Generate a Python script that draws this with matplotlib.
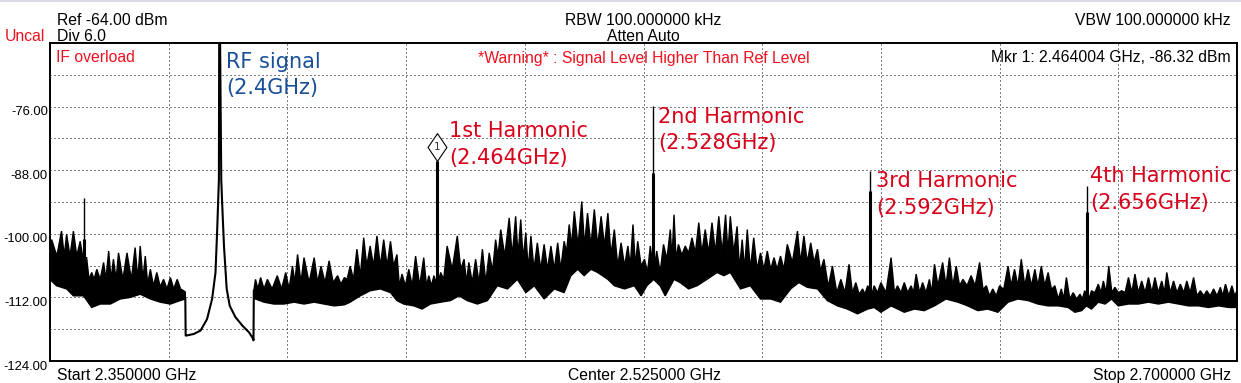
import numpy as np
import matplotlib.pyplot as plt
import matplotlib.transforms as mtransforms
from matplotlib.lines import Line2D

# sweep settings shown on the analyzer screen
start_ghz = 2.35
stop_ghz = 2.70
ref_dbm = -64.0
div_db = 6.0
n_div = 10
bottom_dbm = ref_dbm - n_div * div_db
ytick_vals = [-124.0, -112.0, -100.0, -88.0, -76.0]

# noise floor: (GHz, dBm) along the top and bottom edge of the trace
left_top = [
    (2.3500, -102.5), (2.3505, -101.1), (2.3520, -104.2), (2.3534, -99.5), (2.3542, -104.2),
    (2.3549, -100.1), (2.3559, -104.2), (2.3569, -99.5), (2.3579, -104.2), (2.3589, -101.4),
    (2.3597, -104.5), (2.3608, -104.5), (2.3615, -108.6), (2.3623, -107.3), (2.3630, -108.6),
    (2.3638, -106.7), (2.3648, -108.6), (2.3658, -105.4), (2.3665, -108.6), (2.3673, -103.25),
    (2.3680, -108.6), (2.3687, -104.8), (2.3695, -108.6), (2.3702, -103.6), (2.3715, -108.6),
    (2.3727, -103.6), (2.3740, -108.6), (2.3751, -102.6), (2.3759, -108.6), (2.3766, -102.3),
    (2.3774, -108.6), (2.3781, -104.2), (2.3788, -109.5), (2.3796, -106.7), (2.3805, -109.8),
    (2.3815, -107.3), (2.3825, -110.0), (2.3835, -108.6), (2.3845, -110.4), (2.3855, -108.25),
    (2.3865, -110.4), (2.3875, -108.6), (2.3885, -110.4), (2.3894, -110.75), (2.3899, -111.0),
]
left_bot = [
    (2.3500, -108.6), (2.3519, -109.8), (2.3549, -110.4), (2.3569, -111.7), (2.3599, -111.7),
    (2.3623, -113.9), (2.3648, -113.25), (2.3678, -113.25), (2.3707, -112.3), (2.3737, -112.0),
    (2.3766, -111.4), (2.3796, -112.3), (2.3825, -112.9), (2.3855, -113.25), (2.3884, -112.6),
    (2.3899, -112.3),
]

# carrier and its skirt inside the notch around 2.4 GHz
skirt = [
    (2.3899, -112.3), (2.3900, -119.2), (2.3902, -119.2), (2.3924, -118.9), (2.3944, -118.25),
    (2.3963, -116.1), (2.3978, -112.3), (2.3988, -107.3), (2.3993, -99.2), (2.3996, -93.6),
    (2.3998, -89.8), (2.3999, -60.0), (2.4001, -60.0), (2.4005, -89.8), (2.4008, -94.8),
    (2.4013, -102.3), (2.4021, -110.4), (2.4030, -113.6), (2.4047, -115.75), (2.4067, -117.3),
    (2.4087, -118.6), (2.4099, -119.8), (2.4100, -120.1), (2.4101, -110.75),
]

right_top = [
    (2.4101, -110.75), (2.4106, -108.6), (2.4113, -110.4), (2.4121, -108.25), (2.4131, -110.4),
    (2.4141, -108.6), (2.4155, -110.4), (2.4170, -107.9), (2.4183, -110.4), (2.4195, -107.3),
    (2.4205, -110.4), (2.4215, -106.1), (2.4222, -109.2), (2.4230, -103.9), (2.4240, -109.2),
    (2.4249, -104.5), (2.4264, -109.2), (2.4279, -104.5), (2.4289, -109.2), (2.4299, -106.1),
    (2.4311, -109.2), (2.4323, -105.1), (2.4335, -109.2), (2.4348, -107.9), (2.4358, -109.5),
    (2.4368, -108.25), (2.4376, -108.6), (2.4385, -106.1), (2.4395, -108.6), (2.4405, -102.9),
    (2.4415, -108.0), (2.4425, -100.75), (2.4434, -106.1), (2.4444, -102.3), (2.4454, -106.1),
    (2.4464, -100.4), (2.4474, -106.1), (2.4484, -101.1), (2.4494, -106.1), (2.4504, -101.4),
    (2.4513, -106.1), (2.4523, -103.9), (2.4530, -109.8), (2.4538, -107.6), (2.4548, -109.8),
    (2.4558, -106.7), (2.4568, -109.8), (2.4578, -104.2), (2.4590, -109.8), (2.4602, -104.5),
    (2.4610, -109.8), (2.4617, -107.9), (2.4625, -109.8), (2.4632, -107.9), (2.4642, -109.8),
    (2.4652, -107.3), (2.4661, -108.6), (2.4671, -102.3), (2.4686, -106.7), (2.4701, -100.4),
    (2.4711, -106.7), (2.4721, -104.8), (2.4728, -109.2), (2.4735, -105.4), (2.4745, -109.2),
    (2.4755, -104.8), (2.4765, -109.2), (2.4775, -102.9), (2.4785, -109.2), (2.4795, -103.6),
    (2.4805, -107.0), (2.4814, -101.1), (2.4821, -104.2), (2.4829, -99.2), (2.4841, -104.2),
    (2.4854, -97.0), (2.4863, -104.2), (2.4873, -96.7), (2.4880, -104.2), (2.4888, -97.3),
    (2.4895, -104.8), (2.4903, -99.8), (2.4910, -106.7), (2.4918, -100.4), (2.4927, -106.7),
    (2.4937, -101.7), (2.4947, -106.7), (2.4957, -102.0), (2.4967, -106.7), (2.4977, -102.3),
    (2.4987, -106.7), (2.4997, -101.7), (2.5006, -106.7), (2.5016, -101.4), (2.5023, -103.5),
    (2.5031, -98.25), (2.5038, -102.3), (2.5046, -95.75), (2.5057, -102.3), (2.5068, -93.9),
    (2.5076, -102.3), (2.5085, -96.1), (2.5095, -102.3), (2.5105, -95.4), (2.5115, -102.3),
    (2.5125, -96.7), (2.5135, -102.3), (2.5145, -96.1), (2.5154, -104.0), (2.5164, -99.2),
    (2.5174, -106.1), (2.5184, -101.7), (2.5194, -106.1), (2.5204, -102.3), (2.5211, -106.1),
    (2.5219, -98.25), (2.5226, -106.1), (2.5233, -101.4), (2.5243, -106.1), (2.5253, -104.8),
    (2.5262, -107.3), (2.5270, -102.3), (2.5280, -107.3), (2.5289, -103.25), (2.5299, -107.3),
    (2.5309, -102.0), (2.5319, -104.8), (2.5329, -99.2), (2.5334, -104.8), (2.5340, -96.4),
    (2.5346, -104.8), (2.5353, -102.0), (2.5363, -104.0), (2.5373, -102.3), (2.5383, -103.6),
    (2.5393, -100.75), (2.5403, -103.6), (2.5413, -97.9), (2.5422, -103.6), (2.5432, -99.2),
    (2.5442, -103.6), (2.5452, -97.9), (2.5462, -103.6), (2.5472, -96.7), (2.5482, -103.6),
    (2.5492, -96.4), (2.5499, -103.6), (2.5506, -96.7), (2.5516, -103.6), (2.5526, -98.6),
    (2.5533, -106.7), (2.5541, -101.1), (2.5548, -106.7), (2.5556, -99.2), (2.5565, -106.7),
    (2.5575, -100.75), (2.5585, -106.7), (2.5595, -103.6), (2.5605, -106.7), (2.5615, -103.25),
    (2.5625, -106.7), (2.5635, -104.5), (2.5644, -106.7), (2.5654, -104.2), (2.5664, -106.7),
    (2.5674, -102.0), (2.5689, -105.4), (2.5704, -99.5), (2.5713, -105.4), (2.5723, -100.4),
    (2.5733, -105.4), (2.5743, -101.7), (2.5753, -105.4), (2.5763, -102.9), (2.5772, -107.0),
    (2.5782, -104.8), (2.5795, -110.0), (2.5807, -106.1), (2.5820, -111.1), (2.5832, -108.6),
    (2.5844, -111.1), (2.5856, -105.75), (2.5866, -111.1), (2.5876, -109.2), (2.5886, -111.4),
    (2.5896, -110.4), (2.5903, -111.4), (2.5911, -109.8), (2.5925, -111.1), (2.5930, -109.8),
    (2.5940, -111.1), (2.5950, -109.2), (2.5965, -111.1), (2.5980, -104.5), (2.5990, -111.1),
    (2.5999, -109.8), (2.6009, -111.1), (2.6019, -109.2), (2.6029, -111.1), (2.6039, -109.8),
    (2.6046, -111.1), (2.6054, -107.6), (2.6064, -111.1), (2.6073, -109.2), (2.6083, -111.1),
    (2.6093, -108.6), (2.6100, -111.1), (2.6108, -105.75), (2.6118, -109.8), (2.6132, -105.4),
    (2.6142, -109.8), (2.6152, -104.5), (2.6162, -109.8), (2.6172, -106.1), (2.6182, -109.8),
    (2.6192, -108.6), (2.6204, -109.8), (2.6216, -107.9), (2.6228, -109.8), (2.6241, -105.4),
    (2.6251, -110.5), (2.6261, -109.8), (2.6270, -111.7), (2.6280, -110.4), (2.6290, -111.7),
    (2.6300, -109.8), (2.6312, -110.5), (2.6325, -106.1), (2.6334, -109.8), (2.6344, -106.7),
    (2.6354, -109.8), (2.6364, -104.8), (2.6374, -109.8), (2.6384, -106.7), (2.6394, -109.8),
    (2.6404, -106.7), (2.6413, -109.8), (2.6423, -106.1), (2.6433, -109.8), (2.6443, -107.3),
    (2.6453, -110.5), (2.6463, -109.8), (2.6473, -112.3), (2.6482, -110.4), (2.6489, -112.3),
    (2.6497, -108.25), (2.6507, -112.3), (2.6517, -111.1), (2.6527, -112.3), (2.6537, -111.4),
    (2.6544, -112.3), (2.6551, -110.75), (2.6565, -112.0), (2.6571, -110.75), (2.6581, -111.1),
    (2.6591, -109.5), (2.6599, -111.1), (2.6606, -108.9), (2.6614, -111.1), (2.6622, -106.1),
    (2.6631, -111.1), (2.6640, -110.1), (2.6650, -111.1), (2.6660, -110.75), (2.6670, -111.1),
    (2.6680, -108.25), (2.6690, -111.1), (2.6699, -107.6), (2.6709, -111.1), (2.6719, -108.9),
    (2.6729, -111.1), (2.6739, -108.25), (2.6749, -111.1), (2.6758, -108.25), (2.6768, -111.1),
    (2.6778, -108.9), (2.6786, -111.1), (2.6793, -107.3), (2.6803, -111.1), (2.6813, -108.9),
    (2.6823, -111.1), (2.6833, -109.5), (2.6843, -111.1), (2.6852, -108.9), (2.6862, -111.1),
    (2.6872, -108.25), (2.6882, -111.7), (2.6892, -110.75), (2.6902, -111.7), (2.6911, -110.75),
    (2.6921, -111.7), (2.6931, -110.4), (2.6941, -111.7), (2.6951, -110.1), (2.6958, -111.7),
    (2.6966, -109.5), (2.6976, -111.7), (2.6985, -109.8), (2.6993, -111.7), (2.7000, -110.75),
]
right_bot = [
    (2.4101, -112.3), (2.4106, -112.3), (2.4131, -112.9), (2.4160, -113.25), (2.4190, -113.25),
    (2.4220, -112.9), (2.4249, -113.25), (2.4279, -112.9), (2.4308, -113.25), (2.4338, -113.6),
    (2.4368, -113.4), (2.4385, -112.9), (2.4415, -111.7), (2.4444, -110.75), (2.4474, -110.4),
    (2.4504, -111.1), (2.4523, -112.6), (2.4543, -113.25), (2.4573, -113.6), (2.4597, -114.2),
    (2.4622, -113.25), (2.4652, -112.9), (2.4681, -112.6), (2.4706, -111.7), (2.4730, -112.6),
    (2.4760, -113.25), (2.4790, -112.6), (2.4819, -109.8), (2.4849, -110.4), (2.4878, -108.6),
    (2.4903, -111.1), (2.4928, -109.8), (2.4957, -112.3), (2.4987, -110.4), (2.5016, -111.1),
    (2.5036, -107.9), (2.5056, -106.7), (2.5075, -107.9), (2.5095, -106.7), (2.5115, -107.3),
    (2.5145, -108.6), (2.5164, -109.8), (2.5194, -110.4), (2.5223, -109.8), (2.5243, -111.7),
    (2.5260, -109.8), (2.5280, -108.6), (2.5299, -109.8), (2.5314, -111.7), (2.5340, -108.6),
    (2.5358, -109.2), (2.5383, -110.4), (2.5408, -109.8), (2.5437, -108.6), (2.5467, -107.3),
    (2.5487, -107.9), (2.5506, -107.3), (2.5536, -110.4), (2.5565, -109.8), (2.5595, -112.3),
    (2.5625, -112.3), (2.5654, -112.9), (2.5684, -110.4), (2.5708, -109.2), (2.5733, -110.1),
    (2.5763, -110.4), (2.5792, -112.6), (2.5822, -113.6), (2.5851, -114.2), (2.5881, -115.1),
    (2.5911, -114.2), (2.5930, -113.9), (2.5950, -114.8), (2.5980, -113.6), (2.6019, -114.8),
    (2.6049, -114.2), (2.6078, -114.5), (2.6108, -113.6), (2.6142, -112.3), (2.6177, -112.9),
    (2.6206, -113.6), (2.6236, -114.5), (2.6265, -114.2), (2.6295, -114.8), (2.6325, -112.9),
    (2.6354, -112.3), (2.6384, -112.6), (2.6413, -113.25), (2.6443, -113.6), (2.6473, -113.6),
    (2.6502, -113.9), (2.6522, -114.8), (2.6542, -114.5), (2.6556, -113.6), (2.6571, -114.2),
    (2.6591, -112.9), (2.6611, -113.25), (2.6630, -112.3), (2.6650, -113.6), (2.6680, -113.25),
    (2.6709, -113.25), (2.6739, -112.9), (2.6768, -113.25), (2.6798, -112.9), (2.6828, -113.25),
    (2.6857, -113.6), (2.6887, -113.6), (2.6916, -113.9), (2.6946, -113.6), (2.6976, -113.9),
    (2.7000, -113.9),
]

# narrow spurs: spur at 2.36 GHz and the four harmonics
spike_ghz = [2.3601, 2.4640, 2.5278, 2.5918, 2.6559]
spike_thin_top = [-93.25, -86.32, -75.9, -88.1, -90.9]
spike_thick_top = [-101.0, -86.32, -88.5, -91.9, -95.9]
spike_base = [-108.0, -110.0, -108.0, -111.0, -112.0]

# marker 1
mkr_ghz = 2.464004
mkr_dbm = -86.32

# peak labels: text lines, left edge (GHz), baseline of each line (dBm)
label_lines = [("RF signal", "(2.4GHz)"), ("1st Harmonic", "(2.464GHz)"),
               ("2nd Harmonic", "(2.528GHz)"), ("3rd Harmonic", "(2.592GHz)"),
               ("4th Harmonic", "(2.656GHz)")]
label_ghz = [2.4019, 2.4677, 2.5294, 2.5935, 2.6567]
label_y1 = [-68.7, -81.7, -79.0, -91.1, -90.2]
label_y2 = [-73.7, -86.8, -84.0, -96.2, -95.3]
label_colors = ["#1a4f98", "#d9001a", "#d9001a", "#d9001a", "#d9001a"]

RED = "#f0101e"
W, H = 1241, 383

fig = plt.figure(figsize=(W / 100, H / 100), dpi=100)
ax = fig.add_axes([50 / W, 22 / H, 1187 / W, 318 / H])


def band(top, bot):
    t = np.array(top)
    b = np.array(bot)
    xs = np.concatenate([t[:, 0], b[::-1, 0]])
    ys = np.concatenate([t[:, 1], b[::-1, 1]])
    ax.fill(xs, ys, facecolor="black", edgecolor="black", linewidth=1.0, zorder=3)


band(left_top, left_bot)
band(right_top, right_bot)
sk = np.array(skirt)
ax.plot(sk[:, 0], sk[:, 1], color="black", linewidth=1.5, zorder=3)

ax.vlines(spike_ghz, spike_base, spike_thin_top, color="black", linewidth=1.0, zorder=3)
ax.vlines(spike_ghz, spike_base, spike_thick_top, color="black", linewidth=2.2, zorder=3)

# marker diamond sits on the peak
diamond = [(0, 1), (0.68, 0), (0, -1), (-0.68, 0), (0, 1)]
trans = mtransforms.offset_copy(ax.transData, fig=fig, y=10, units="points")
ax.plot([mkr_ghz], [mkr_dbm], marker=diamond, ms=20, mfc="white", mec="black",
        mew=0.8, transform=trans, zorder=5)
ax.text(mkr_ghz, mkr_dbm, "1", transform=trans, ha="center", va="center",
        fontsize=7.5, color="#333333", family="DejaVu Sans", zorder=6)

for lines, x, y1, y2, c in zip(label_lines, label_ghz, label_y1, label_y2, label_colors):
    ax.text(x, y1, lines[0], color=c, fontsize=15, family="DejaVu Sans", va="baseline", zorder=6)
    ax.text(x, y2, lines[1], color=c, fontsize=15, family="DejaVu Sans", va="baseline", zorder=6)

ax.set_xlim(start_ghz, stop_ghz)
ax.set_ylim(bottom_dbm, ref_dbm)
ax.set_xticks(np.linspace(start_ghz, stop_ghz, n_div + 1))
ax.set_yticks(ytick_vals)
ax.set_yticks(np.arange(bottom_dbm, ref_dbm + 0.1, div_db), minor=True)
ax.set_yticklabels([f"{v:.2f}" for v in ytick_vals], family="Liberation Sans", fontsize=9.4)
ax.tick_params(which="both", length=0, labelbottom=False, pad=1.5)
shift = mtransforms.ScaledTranslation(0, -3 / 72, fig.dpi_scale_trans)
for lab in ax.get_yticklabels():
    lab.set_transform(lab.get_transform() + shift)
ax.set_axisbelow(True)
ax.grid(which="both", color="black", linestyle=(0, (1, 3)), linewidth=0.72)
for s in ax.spines.values():
    s.set_linewidth(1.4)


def header(x, y, s, ha="left", color="black"):
    fig.text(x / W, 1 - y / H, s, ha=ha, va="baseline", color=color,
             fontsize=11.3, family="Liberation Sans")


header(57, 25, "Ref -64.00 dBm")
header(57, 41, "Div 6.0")
header(5, 41, "Uncal", color=RED)
header(643.5, 25, "RBW 100.000000 kHz", ha="center")
header(643.5, 41, "Atten Auto", ha="center")
header(1231, 25, "VBW 100.000000 kHz", ha="right")
header(56, 62.5, "IF overload", color=RED)
header(643.5, 62.5, "*Warning* : Signal Level Higher Than Ref Level", ha="center", color=RED)
header(1231, 62.5, "Mkr 1: 2.464004 GHz, -86.32 dBm", ha="right")
header(57, 380, "Start 2.350000 GHz")
header(644, 380, "Center 2.525000 GHz", ha="center")
header(1231.5, 380, "Stop 2.700000 GHz", ha="right")

fig.add_artist(Line2D([0, 1], [1 - 0.6 / H, 1 - 0.6 / H], color="#d4d4e4",
                      linewidth=1.2, transform=fig.transFigure))

fig.savefig("out.png", dpi=100)
